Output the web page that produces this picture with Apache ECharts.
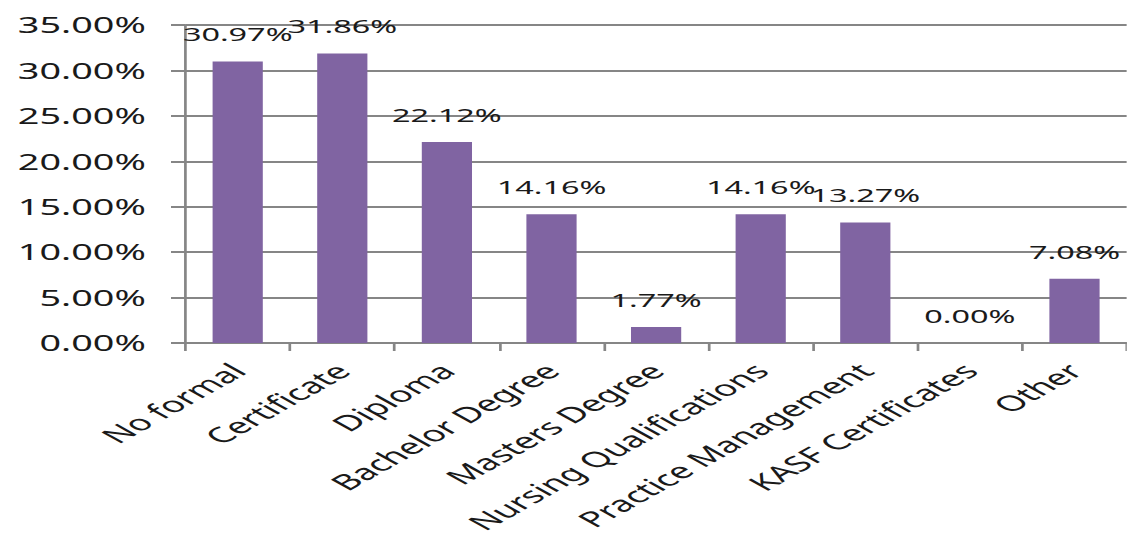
<!DOCTYPE html>
<html>
<head>
<meta charset="utf-8">
<script src="https://cdn.jsdelivr.net/npm/echarts@6/dist/echarts.min.js"></script>
<style>
html,body{margin:0;padding:0;background:#fff;overflow:hidden;width:1127px;height:539px;}
#c{width:626px;height:539px;transform:scaleX(1.8);transform-origin:0 0;}
</style>
</head>
<body>
<div id="c"></div>
<script>
const categories = ['No formal','Certificate','Diploma','Bachelor Degree','Masters Degree','Nursing Qualifications','Practice Management','KASF Certificates','Other'];
const values = [30.97, 31.86, 22.12, 14.16, 1.77, 14.16, 13.27, 0.00, 7.08];
const yMin = 0, yMax = 35, yStep = 5;

const chart = echarts.init(document.getElementById('c'), null, {renderer:'svg'});
const font = 'Noto Sans';
chart.setOption({
  animation:false,
  backgroundColor:'#ffffff',
  grid:{left:103, right:0, top:25, bottom:196, containLabel:false, outerBoundsMode:'none'},
  xAxis:{
    type:'category',
    data:categories,
    axisLine:{show:true, lineStyle:{color:'#868686', width:2}},
    axisTick:{show:true, alignWithLabel:false, length:8, lineStyle:{color:'#868686', width:1.5}},
    axisLabel:{interval:0, rotate:45, margin:24, fontFamily:font, fontSize:21.5, color:'#1a1a1a'}
  },
  yAxis:{
    type:'value',
    min:yMin, max:yMax, interval:yStep,
    axisLine:{show:true, lineStyle:{color:'#868686', width:1.5}},
    axisTick:{show:true, length:8, lineStyle:{color:'#868686', width:2}},
    splitLine:{show:true, lineStyle:{color:'#868686', width:2}},
    axisLabel:{margin:22, fontFamily:font, fontSize:21, color:'#1a1a1a',
      formatter:v=>v.toFixed(2)+'%'}
  },
  series:[{
    type:'bar',
    data:values,
    barWidth:'48%',
    itemStyle:{color:'#8064A2'},
    label:{show:true, position:'top', distance:18, fontFamily:font, fontSize:18, color:'#1a1a1a',
      formatter:p=>p.value.toFixed(2)+'%'}
  }]
});
</script>
</body>
</html>
